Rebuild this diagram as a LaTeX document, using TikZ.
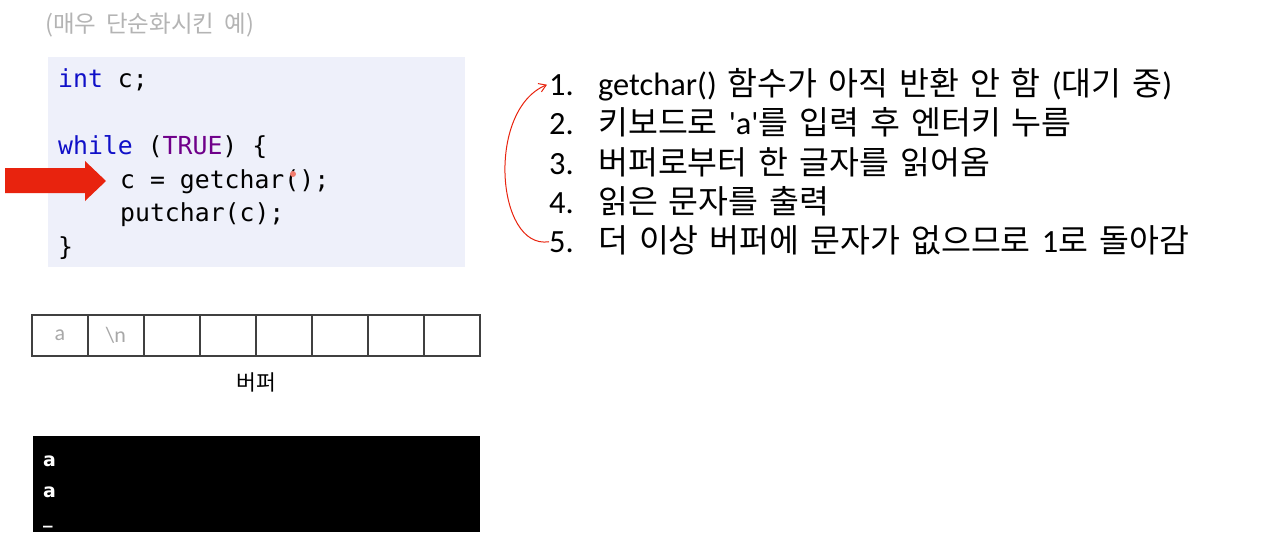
\documentclass[tikz,border=0pt]{standalone}
\usepackage{fontspec}
\usetikzlibrary{arrows.meta}
\newfontfamily\kor{Noto Sans CJK KR}
\newfontfamily\lat[Ligatures=TeXOff]{Carlito}
\newfontfamily\code{DejaVu Sans Mono}
\newfontfamily\con{DejaVu Sans}
\newcommand\latin{\lat\fontsize{32.4}{32.4}\selectfont}
\newcommand\itemfont{\kor\fontsize{32.5}{32.5}\selectfont\spaceskip 11pt\relax}
\newcommand\titlefont{\kor\fontsize{23.5}{23.5}\selectfont\spaceskip 10pt\relax}
\definecolor{codebg}{HTML}{EEF0FA}
\definecolor{kwblue}{HTML}{1010C8}
\definecolor{macro}{HTML}{6F008A}
\definecolor{arrowred}{HTML}{E8230E}
\definecolor{titlegray}{HTML}{B4B4B4}
\definecolor{cellgray}{HTML}{A8A8A8}
\definecolor{linegray}{HTML}{404040}
\begin{document}
\begin{tikzpicture}[x=1pt,y=-1pt,
	codeline/.style={anchor=base west, inner sep=0pt, font=\code\fontsize{24.8}{24.8}\selectfont},
	num/.style={anchor=base west, inner sep=0pt, font=\latin},
	item/.style={anchor=base west, inner sep=0pt, font=\itemfont},
	cell/.style={draw=linegray, line width=1.5pt, minimum width=56pt, minimum height=41pt, inner sep=0pt, outer sep=0pt, anchor=north west, text=cellgray, font=\lat\fontsize{22}{22}\selectfont},
	contxt/.style={anchor=base west, inner sep=0pt, text=white, font=\con\bfseries\fontsize{19}{19}\selectfont}]
	\useasboundingbox (0,0) rectangle (1266,555);
	% title
	\node (head) at (45, 32)	[anchor=base west, inner sep=0pt, text=titlegray, font=\titlefont]	{(매우 단순화시킨 예)};
	% code
	\fill[codebg] (48,57) rectangle (465,267);
	\node (L1) at ( 58,  87)	[codeline]	{{\color{kwblue}int} c;};
	\node (L2) at ( 58, 154)	[codeline]	{{\color{kwblue}while} ({\color{macro}TRUE}) \{};
	\node (L3) at (120, 188)	[codeline]	{c = getchar();};
	\node (L4) at (120, 221)	[codeline]	{putchar(c);};
	\node (L5) at ( 58, 255)	[codeline]	{\}};
	\fill[arrowred] (5,168) -- (85,168) -- (85,161) -- (106,181) -- (85,201) -- (85,193) -- (5,193) -- cycle;
	\fill[arrowred!60] (293,174) circle (3);
	% buffer
	\node (B1) at ( 32, 315)	[cell]	{a};
	\node (B2) at ( 88, 315)	[cell]	{\textbackslash n};
	\node (B3) at (144, 315)	[cell]	{};
	\node (B4) at (200, 315)	[cell]	{};
	\node (B5) at (256, 315)	[cell]	{};
	\node (B6) at (312, 315)	[cell]	{};
	\node (B7) at (368, 315)	[cell]	{};
	\node (B8) at (424, 315)	[cell]	{};
	\node (BL) at (256, 382)	[font=\kor\fontsize{21.5}{21.5}\selectfont]	{버퍼};
	% console
	\node (con) at (256.5, 484)	[fill=black, minimum width=447pt, minimum height=96pt, inner sep=0pt]	{};
	\node (C1) at (43, 466)	[contxt]	{a};
	\node (C2) at (43, 497)	[contxt]	{a};
	\node (C3) at (43, 523)	[contxt]	{\_};
	% steps
	\node (N1) at (549,  95)	[num]	{1.};
	\node (N2) at (549, 134)	[num]	{2.};
	\node (N3) at (549, 174)	[num]	{3.};
	\node (N4) at (549, 213)	[num]	{4.};
	\node (N5) at (549, 252)	[num]	{5.};
	\node (S1) at (598,  95)	[item]	{{\latin getchar()} 함수가 아직 반환 안 함 {\latin (}대기 중{\latin )}};
	\node (S2) at (598, 134)	[item]	{키보드로 {\latin 'a'}를 입력 후 엔터키 누름};
	\node (S3) at (598, 174)	[item]	{버퍼로부터 한 글자를 읽어옴};
	\node (S4) at (598, 213)	[item]	{읽은 문자를 출력};
	\node (S5) at (598, 252)	[item]	{더 이상 버퍼에 문자가 없으므로 {\latin 1}로 돌아감};
	\draw[arrowred, line width=1pt, -{Straight Barb[length=7pt, width=9pt]}] (N5.west) .. controls (496,250) and (486,110) .. ([xshift=-2pt]N1.west);
\end{tikzpicture}
\end{document}
